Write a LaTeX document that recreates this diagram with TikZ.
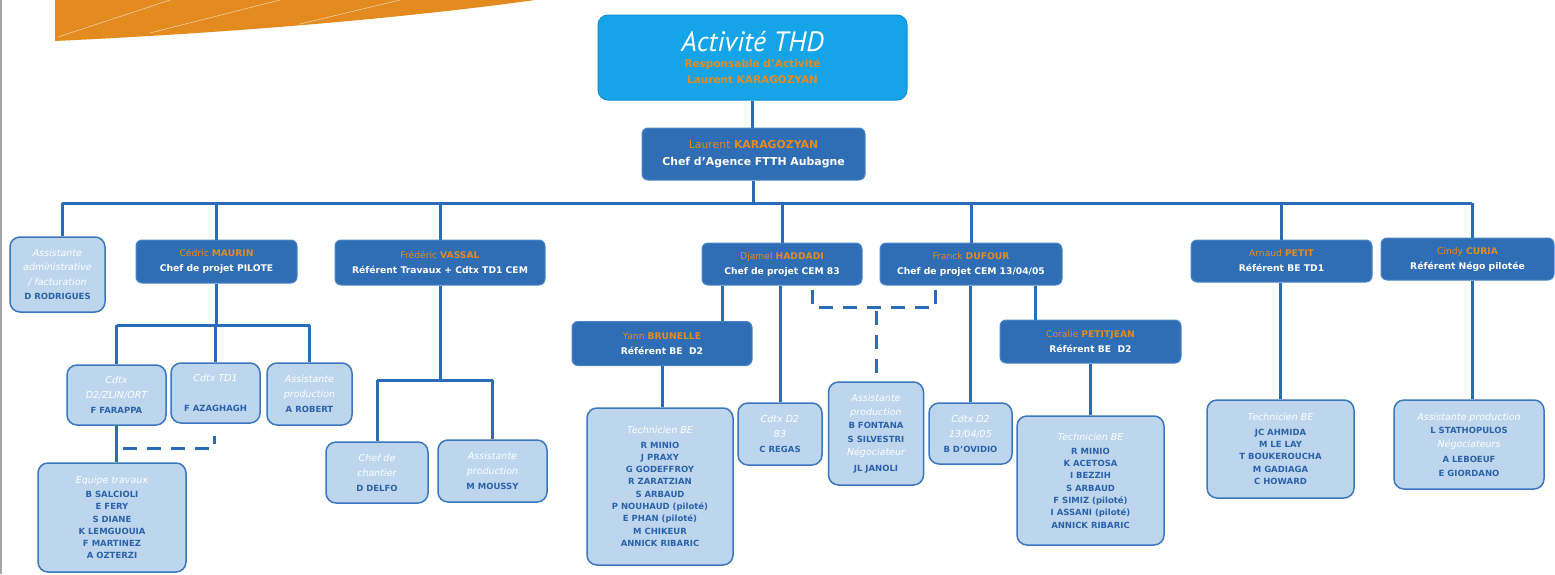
\documentclass[tikz,border=0pt]{standalone}
\usepackage{fontspec}
\setmainfont{DejaVu Sans}
\newfontfamily\ptsans{PT Sans}
\definecolor{topfill}{HTML}{16A4E8}
\definecolor{topedge}{HTML}{0C8ED6}
\definecolor{dkblue}{HTML}{2F6DB5}
\definecolor{dkedge}{HTML}{4A86C8}
\definecolor{ltblue}{HTML}{BDD6EE}
\definecolor{ltedge}{HTML}{3A77BE}
\definecolor{nmblue}{HTML}{2B62AA}
\definecolor{orng}{HTML}{E38B1F}
\definecolor{lncol}{HTML}{2A6CB8}
\newcommand\orn[2]{{\color{orng}#1 \textbf{#2}}}
\newcommand\hdg[1]{{\color{white}\itshape\fontsize{9.5}{15}\selectfont #1}}
\newcommand\who[1]{{\color{nmblue}\bfseries #1}}
\tikzset{
  dark/.style={draw=dkedge, line width=1pt, fill=dkblue, rounded corners=6pt, align=center,
    inner sep=0pt, text=white, font=\fontsize{9.2}{15}\selectfont},
  light/.style={draw=ltedge, line width=1.5pt, fill=ltblue, rounded corners=10pt, align=center,
    inner sep=0pt, font=\fontsize{8.5}{15}\selectfont},
  lister/.style={light, font=\fontsize{8.5}{12.3}\selectfont},
  conn/.style={draw=lncol, line width=3pt},
  dconn/.style={draw=lncol, line width=3pt, dash pattern=on 14pt off 10pt},
}
\begin{document}
\begin{tikzpicture}[x=1pt,y=-1pt]
\useasboundingbox (0,0) rectangle (1555,574);
\fill[white] (0,0) rectangle (1555,574);
% decorative orange swoosh and slide edge
\fill[orng] (55,0) -- (55,41) .. controls (250,32) and (420,16) .. (535,0) -- cycle;
\draw[white, opacity=0.6, line width=0.6pt] (58,37) -- (170,0);
\draw[white, opacity=0.6, line width=0.6pt] (150,33) -- (280,0);
\draw[white, opacity=0.6, line width=0.6pt] (300,24) -- (400,0);
\draw[gray!70, line width=1.5pt] (1,0) -- (1,574);

% level 0 and 1
\node[draw=topedge, line width=1pt, fill=topfill, rounded corners=10pt, align=center, inner sep=0pt,
  minimum width=309pt, minimum height=85pt, font=\fontsize{10.5}{16}\selectfont] (top) at (752.5,57.5)
  {{\color{white}\ptsans\itshape\fontsize{28}{30}\selectfont Activité THD}\\
   {\color{orng}\bfseries Responsable d’Activité}\\
   {\color{orng}\bfseries Laurent KARAGOZYAN}};
\node[dark, minimum width=223pt, minimum height=52pt, font=\fontsize{10.9}{17}\selectfont] (agence) at (753.5,154)
  {\orn{Laurent}{KARAGOZYAN}\\\textbf{Chef d’Agence FTTH Aubagne}};

% level 2
\node[light, minimum width=95pt, minimum height=75pt, font=\fontsize{8.5}{14.5}\selectfont] (assadmin) at (57.5,274.5)
  {\hdg{Assistante}\\\hdg{administrative}\\\hdg{/ facturation}\\\who{D RODRIGUES}};
\node[dark, minimum width=161pt, minimum height=43pt] (maurin) at (216.5,261.5)
  {\orn{Cédric}{MAURIN}\\\textbf{Chef de projet PILOTE}};
\node[dark, minimum width=210pt, minimum height=45pt] (vassal) at (440,262.5)
  {\orn{Frédéric}{VASSAL}\\\textbf{Référent Travaux + Cdtx TD1 CEM}};
\node[dark, minimum width=160pt, minimum height=42pt] (haddadi) at (782,264)
  {\orn{Djamel}{HADDADI}\\\textbf{Chef de projet CEM 83}};
\node[dark, minimum width=182pt, minimum height=42pt] (dufour) at (971,264)
  {\orn{Franck}{DUFOUR}\\\textbf{Chef de projet CEM 13/04/05}};
\node[dark, minimum width=181pt, minimum height=42pt] (petit) at (1281.5,261)
  {\orn{Arnaud}{PETIT}\\\textbf{Référent BE TD1}};
\node[dark, minimum width=173pt, minimum height=42pt] (curia) at (1467.5,259)
  {\orn{Cindy}{CURIA}\\\textbf{Référent Négo pilotée}};

% level 3
\node[light, minimum width=99pt, minimum height=60pt] (cdtxzlin) at (116.5,395)
  {\hdg{Cdtx}\\\hdg{D2/ZLIN/ORT}\\\who{F FARAPPA}};
\node[light, minimum width=89pt, minimum height=60pt] (cdtxtd) at (215.5,393)
  {\hdg{Cdtx TD1}\\[15pt]\who{F AZAGHAGH}};
\node[light, minimum width=85pt, minimum height=62pt] (robert) at (309.5,394)
  {\hdg{Assistante}\\\hdg{production}\\\who{A ROBERT}};
\node[lister, minimum width=148pt, minimum height=109pt] (equipe) at (112,517.5)
  {\hdg{Equipe travaux}\\[2pt]\who{B SALCIOLI}\\\who{E FERY}\\\who{S DIANE}\\\who{K LEMGUOUIA}\\\who{F MARTINEZ}\\\who{A OZTERZI}};
\node[light, minimum width=102pt, minimum height=61pt] (delfo) at (377,472.5)
  {\hdg{Chef de}\\\hdg{chantier}\\\who{D DELFO}};
\node[light, minimum width=109pt, minimum height=62pt] (moussy) at (492.5,471)
  {\hdg{Assistante}\\\hdg{production}\\\who{M MOUSSY}};
\node[dark, minimum width=180pt, minimum height=44pt] (yann) at (662,343.5)
  {\orn{Yann}{BRUNELLE}\\\textbf{Référent BE\ \ D2}};
\node[lister, minimum width=146pt, minimum height=157pt] (techa) at (660,486.5)
  {\hdg{Technicien BE}\\[2pt]\who{R MINIO}\\\who{J PRAXY}\\\who{G GODEFFROY}\\\who{R ZARATZIAN}\\\who{S ARBAUD}\\\who{P NOUHAUD (piloté)}\\\who{E PHAN (piloté)}\\\who{M CHIKEUR}\\\who{ANNICK RIBARIC}};
\node[light, minimum width=84pt, minimum height=62pt] (regas) at (780,434)
  {\hdg{Cdtx D2}\\\hdg{83}\\\who{C REGAS}};
\node[lister, minimum width=95pt, minimum height=103pt, font=\fontsize{8.5}{13.5}\selectfont] (fontana) at (876,433.5)
  {\hdg{Assistante}\\\hdg{production}\\\who{B FONTANA}\\\who{S SILVESTRI}\\\hdg{Négociateur}\\[2pt]\who{JL JANOLI}};
\node[light, minimum width=83pt, minimum height=61pt] (ovidio) at (970.5,433.5)
  {\hdg{Cdtx D2}\\\hdg{13/04/05}\\\who{B D’OVIDIO}};
\node[dark, minimum width=181pt, minimum height=43pt] (coralie) at (1090.5,341.5)
  {\orn{Coralie}{PETITJEAN}\\\textbf{Référent BE\ \ D2}};
\node[lister, minimum width=147pt, minimum height=129pt] (techb) at (1090.5,480.5)
  {\hdg{Technicien BE}\\[2pt]\who{R MINIO}\\\who{K ACETOSA}\\\who{I BEZZIH}\\\who{S ARBAUD}\\\who{F SIMIZ (piloté)}\\\who{I ASSANI (piloté)}\\\who{ANNICK RIBARIC}};
\node[lister, minimum width=147pt, minimum height=98pt] (techc) at (1280.5,449)
  {\hdg{Technicien BE}\\[2pt]\who{JC AHMIDA}\\\who{M LE LAY}\\\who{T BOUKEROUCHA}\\\who{M GADIAGA}\\\who{C HOWARD}};
\node[lister, minimum width=150pt, minimum height=89pt, font=\fontsize{8.5}{13.5}\selectfont] (stath) at (1469,444.5)
  {\hdg{Assistante production}\\\who{L STATHOPULOS}\\\hdg{Négociateurs}\\[2pt]\who{A LEBOEUF}\\\who{E GIORDANO}};

% connectors
\coordinate (busL) at (62,203);
\coordinate (busR) at (1472,203);
\draw[conn] (top.south) -- (top.south |- agence.north);
\draw[conn] (agence.south) -- (agence.south |- busL);
\draw[conn] (busL) -- (busR);
\draw[conn] (busL) -- (busL |- assadmin.north);
\draw[conn] (maurin.north |- busL) -- (maurin.north);
\draw[conn] (vassal.north |- busL) -- (vassal.north);
\draw[conn] (haddadi.north |- busL) -- (haddadi.north);
\draw[conn] (dufour.north |- busL) -- (dufour.north);
\draw[conn] (petit.north |- busL) -- (petit.north);
\draw[conn] (busR) -- (busR |- curia.north);

% Maurin branch
\coordinate (mbus) at (216,325);
\draw[conn] (maurin.south) -- (maurin.south |- mbus);
\draw[conn] (cdtxzlin.north |- mbus) -- (robert.north |- mbus);
\draw[conn] (cdtxzlin.north |- mbus) -- (cdtxzlin.north);
\draw[conn] (cdtxtd.north |- mbus) -- (cdtxtd.north);
\draw[conn] (robert.north |- mbus) -- (robert.north);
\draw[conn] (cdtxzlin.south) -- (cdtxzlin.south |- equipe.north);
\coordinate (dsh) at (214,448);
\coordinate (dshtop) at (214,436);
\draw[dconn, dash phase=-6pt] (cdtxzlin.south |- dsh) -- (dsh) -- (dshtop);

% Vassal branch
\coordinate (vbus) at (440,380);
\draw[conn] (vassal.south) -- (vassal.south |- vbus);
\draw[conn] (delfo.north |- vbus) -- (moussy.north |- vbus);
\draw[conn] (delfo.north |- vbus) -- (delfo.north);
\draw[conn] (moussy.north |- vbus) -- (moussy.north);

% Haddadi branch
\draw[conn] ([xshift=-60pt]haddadi.south) -- ([xshift=-60pt]haddadi.south |- yann.north);
\draw[conn] (regas.north |- haddadi.south) -- (regas.north);
\draw[conn] (yann.south) -- (yann.south |- techa.north);
\coordinate (dl) at (812,307);
\coordinate (dr) at (935,307);
\draw[dconn, dash phase=-4pt] (dl |- haddadi.south) -- (dl) -- (dr) -- (dr |- dufour.south);
\draw[dconn, dash phase=-4pt] (fontana.north |- dl) -- (fontana.north);

% Dufour branch
\draw[conn] (ovidio.north |- dufour.south) -- (ovidio.north);
\draw[conn] ([xshift=64pt]dufour.south) -- ([xshift=64pt]dufour.south |- coralie.north);
\draw[conn] (coralie.south) -- (coralie.south |- techb.north);

% Petit and Curia
\draw[conn] (techc.north |- petit.south) -- (techc.north);
\draw[conn] (busR |- curia.south) -- (busR |- stath.north);
\end{tikzpicture}
\end{document}
